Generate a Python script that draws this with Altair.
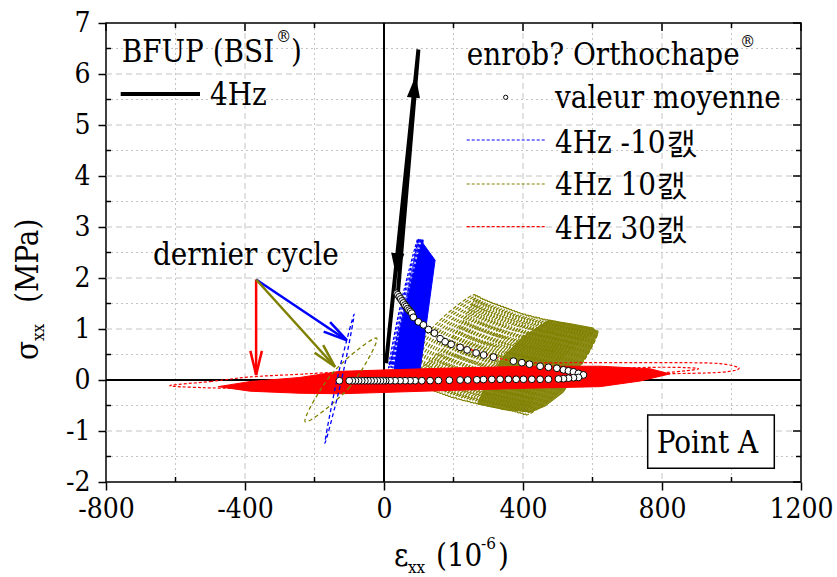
import altair as alt
import pandas as pd

FONT = "DejaVu Serif Condensed, DejaVu Serif"
BLUE, OLIVE, RED = "#0000ff", "#808000", "#ff0000"
W, H = 695, 459
FS = 31      # main text size
FSS = 17     # sub / superscript size
FST = 28     # tick label size

# ---------------- axis values ----------------
x_major = [-800, -400, 0, 400, 800, 1200]
x_minor = [-600, -200, 200, 600, 1000]
y_major = [-2, -1, 0, 1, 2, 3, 4, 5, 6, 7]
y_minor = [-1.5, -0.5, 0.5, 1.5, 2.5, 3.5, 4.5, 5.5, 6.5]
x_grid_major = [-400, 400, 800]
y_grid_major = [-1, 1, 2, 3, 4, 5, 6]

# ---------------- BFUP (BSI) 4Hz path ----------------
bfup_x = [6, 99, 40]
bfup_y = [0.33, 6.48, 1.70]
bfup_up_arrow = (88, 5.75)
bfup_down_arrow = (37, 2.27)

# ---------------- valeur moyenne ----------------
mean_up_x = [36.8, 40, 44, 48, 52, 56, 60, 64, 68, 72, 76, 80.0, 84.6, 99.0, 113.4, 127.8, 145.1,
             161.5, 175.9, 193.2, 219.1, 239.2, 265.1, 286.7, 314.9, 372.5, 396.7, 418.5, 449.3,
             473.2, 497.4, 516.4, 530.8, 545.2, 559.6, 574.0]
mean_up_y = [1.70, 1.67, 1.63, 1.59, 1.55, 1.51, 1.47, 1.44, 1.40, 1.37, 1.34, 1.31, 1.23, 1.14,
             1.08, 0.99, 0.92, 0.81, 0.75, 0.70, 0.64, 0.59, 0.53, 0.49, 0.45, 0.37, 0.34, 0.31,
             0.27, 0.25, 0.23, 0.20, 0.18, 0.16, 0.13, 0.10]
mean_lo_x = [559.6, 545.2, 530.8, 516.4, 502.0, 473.2, 449.3, 425.4, 401.3, 380.3, 358.1, 334.2,
             310.3, 286.1, 267.1, 241.0, 219.0, 188.0, 156.6, 132.7, 108.8, 89.5, 75.1, 60.7, 46.3,
             32.0, 17.6, 5, -1.7, -10, -19, -28, -37, -46, -55, -64, -73, -82, -91, -100, -128.4]
mean_lo_y = [0.05, 0.045, 0.035, 0.025, 0.02, 0.015, 0.014, 0.014, 0.014, 0.014, 0.014, 0.014,
             0.012, 0.01, 0.005, 0.0, 0.0, -0.005, -0.01, -0.012] + [-0.014] * 21

# ---------------- 4Hz -10°C (blue) ----------------
blue_band_x = [23, 46, 81, 108.8, 147, 104, 95]
blue_band_y = [-0.1, 0.98, 1.96, 2.71, 2.35, 0.2, -0.1]
blue_loop_rx = [42, 6.2, -42, -6.2]
blue_loop_ry = [1.265, -0.01, -1.265, 0.01]
blue_comb_cx = [55, 59, 63, 67, 71]
blue_comb_cy = [1.50, 1.51, 1.51, 1.50, 1.50]
blue_last_c = ([-128], [0.025])

# ---------------- 4Hz 10°C (olive) ----------------
olive_loop_rx = [103, 24.7, -103, -23.7]
olive_loop_ry = [0.82, -0.14, -0.82, 0.14]
olive_cx = [159, 166, 173, 180, 187, 194, 201, 208, 216, 224, 232, 240, 248, 256, 264, 272, 280,
            288, 296, 304, 312, 320, 328, 336, 344, 352, 360, 368, 376, 384, 392, 400, 408, 416,
            424, 432, 440, 448, 456, 464, 472, 480, 488, 496, 504, 512]
olive_cy = [0.85, 0.83, 0.81, 0.78, 0.76, 0.74, 0.72, 0.70, 0.68, 0.66, 0.64, 0.62, 0.60, 0.58,
            0.56, 0.54, 0.52, 0.50, 0.48, 0.47, 0.45, 0.44, 0.42, 0.41, 0.40, 0.38, 0.37, 0.36,
            0.35, 0.34, 0.33, 0.31, 0.30, 0.29, 0.28, 0.27, 0.25, 0.24, 0.23, 0.22, 0.21, 0.20,
            0.18, 0.17, 0.15, 0.14]
olive_dense_x = [475, 540, 602, 616, 593, 516, 464, 421, 340, 269, 300, 348, 400]
olive_dense_y = [1.17, 1.10, 1.02, 0.93, 0.59, -0.24, -0.51, -0.63, -0.57, -0.47, 0.0, 0.49, 0.85]
olive_last_c = ([-124], [0.0])

# ---------------- 4Hz 30°C (red) ----------------
red_band_x = [-477, -385, -242, -126, 161, 421, 622, 766, 823, 737, 622, 421, 161, -126, -242, -385]
red_band_y = [-0.13, -0.03, 0.05, 0.17, 0.23, 0.27, 0.27, 0.22, 0.12, -0.02, -0.13, -0.16, -0.21,
              -0.27, -0.26, -0.22]
red_outer_x = [-616, -500, -385, -250, -136, 100, 400, 650, 400, 100, -184, -385, -520]
red_outer_y = [-0.11, -0.03, 0.06, 0.11, 0.15, 0.20, 0.18, 0.12, -0.04, -0.12, -0.20, -0.17, -0.15]
red_first_x = [209.6, 334, 420.6, 560, 708, 860, 967, 1022, 967, 795, 622]
red_first_y = [0.69, 0.42, 0.34, 0.34, 0.34, 0.34, 0.32, 0.23, 0.15, 0.12, 0.10]
red_mid_x = [600, 800, 905, 800, 600]
red_mid_y = [0.22, 0.25, 0.22, 0.14, 0.06]

# ---------------- dernier cycle arrows ----------------
arrow_start = (-368, 1.97)
arrow_red_tip = (-368, 0.10)
arrow_blue_tip = (-107, 0.78)
arrow_olive_tip = (-141, 0.26)

# ======================================================================
xsc = alt.Scale(domain=[-800, 1200], nice=False, zero=False)
ysc = alt.Scale(domain=[-2, 7], nice=False, zero=False)

xaxis = alt.Axis(values=x_major, title=None, grid=False, domain=False, tickSize=8, tickWidth=1.5,
                 tickColor="black", labelFont=FONT, labelFontSize=FST, labelColor="black",
                 labelPadding=5, labelFlush=False, labelOverlap=False, labelExpr="'' + datum.value")
yaxis = alt.Axis(values=y_major, title=None, grid=False, domain=False, tickSize=8, tickWidth=1.5,
                 tickColor="black", labelFont=FONT, labelFontSize=FST, labelColor="black",
                 labelPadding=8, labelFlush=False, labelOverlap=False, labelExpr="'' + datum.value")


def ex(f="x"):
    return alt.X(f"{f}:Q", scale=xsc, axis=xaxis)


def ey(f="y"):
    return alt.Y(f"{f}:Q", scale=ysc, axis=yaxis)


def path(xs, ys):
    return pd.DataFrame({"x": xs, "y": ys, "o": list(range(len(xs)))})


def loops(cx, cy, rx, ry):
    rows = []
    for i, (a, b) in enumerate(zip(cx, cy)):
        for j, (u, v) in enumerate(zip(rx, ry)):
            rows.append({"x": a + u, "y": b + v, "g": i, "o": j})
    return pd.DataFrame(rows)


dummy = pd.DataFrame({"a": [0]})
layers = []

layers.append(alt.Chart(pd.DataFrame({"x": [0], "y": [0]})).mark_point(opacity=0).encode(x=ex(), y=ey()))


def vgrid(vals, dash):
    return alt.Chart(pd.DataFrame({"v": vals})).mark_rule(color="#c4c4c4", strokeWidth=1, strokeDash=dash).encode(
        x=ex("v"), y=alt.value(0), y2=alt.value(H))


def hgrid(vals, dash):
    return alt.Chart(pd.DataFrame({"v": vals})).mark_rule(color="#c4c4c4", strokeWidth=1, strokeDash=dash).encode(
        y=ey("v"), x=alt.value(0), x2=alt.value(W))


layers += [vgrid(x_minor, [2, 3]), vgrid(x_grid_major, [6, 4]), hgrid(y_minor, [2, 3]), hgrid(y_grid_major, [6, 4])]


def xticks(vals, y0, y1):
    return alt.Chart(pd.DataFrame({"v": vals})).mark_rule(color="black", strokeWidth=1.5).encode(
        x=ex("v"), y=alt.value(y0), y2=alt.value(y1))


def yticks(vals, x0, x1):
    return alt.Chart(pd.DataFrame({"v": vals})).mark_rule(color="black", strokeWidth=1.5).encode(
        y=ey("v"), x=alt.value(x0), x2=alt.value(x1))


layers += [xticks(x_major, 0, 8), xticks(x_minor, 0, 5), xticks(x_minor, H, H - 5),
           yticks(y_major, W, W - 8), yticks(y_minor, W, W - 5), yticks(y_minor, 0, 5)]

layers.append(alt.Chart(pd.DataFrame({"v": [0]})).mark_rule(color="black", strokeWidth=2).encode(
    x=ex("v"), y=alt.value(0), y2=alt.value(H)))
layers.append(alt.Chart(pd.DataFrame({"v": [0]})).mark_rule(color="black", strokeWidth=2).encode(
    y=ey("v"), x=alt.value(0), x2=alt.value(W)))

layers.append(alt.Chart(loops(olive_cx, olive_cy, olive_loop_rx, olive_loop_ry)).mark_line(
    interpolate="cardinal-closed", color=OLIVE, strokeWidth=1.2, strokeDash=[4, 2]).encode(
    x=ex(), y=ey(), detail="g:N", order="o:Q"))
layers.append(alt.Chart(path(olive_dense_x, olive_dense_y)).mark_line(
    interpolate="linear-closed", color=OLIVE, fill=OLIVE, strokeWidth=1, fillOpacity=0.9).encode(
    x=ex(), y=ey(), order="o:Q"))

layers.append(alt.Chart(path(blue_band_x, blue_band_y)).mark_line(
    interpolate="linear-closed", color=BLUE, fill=BLUE, strokeWidth=1).encode(x=ex(), y=ey(), order="o:Q"))
layers.append(alt.Chart(loops(blue_comb_cx, blue_comb_cy, blue_loop_rx, blue_loop_ry)).mark_line(
    interpolate="cardinal-closed", color=BLUE, strokeWidth=1.2, strokeDash=[3, 2]).encode(
    x=ex(), y=ey(), detail="g:N", order="o:Q"))

layers.append(alt.Chart(path(red_band_x, red_band_y)).mark_line(
    interpolate="linear-closed", color=RED, fill=RED, strokeWidth=1).encode(x=ex(), y=ey(), order="o:Q"))
layers.append(alt.Chart(path(red_outer_x, red_outer_y)).mark_line(
    interpolate="cardinal-closed", color=RED, strokeWidth=1.2, strokeDash=[3, 2]).encode(x=ex(), y=ey(), order="o:Q"))
layers.append(alt.Chart(path(red_first_x, red_first_y)).mark_line(
    interpolate="cardinal", color=RED, strokeWidth=1.2, strokeDash=[3, 2]).encode(x=ex(), y=ey(), order="o:Q"))
layers.append(alt.Chart(path(red_mid_x, red_mid_y)).mark_line(
    interpolate="cardinal", color=RED, strokeWidth=1.2, strokeDash=[3, 2]).encode(x=ex(), y=ey(), order="o:Q"))

layers.append(alt.Chart(loops(*olive_last_c, olive_loop_rx, olive_loop_ry)).mark_line(
    interpolate="cardinal-closed", color=OLIVE, strokeWidth=1.3, strokeDash=[4, 3]).encode(
    x=ex(), y=ey(), detail="g:N", order="o:Q"))
layers.append(alt.Chart(loops(*blue_last_c, blue_loop_rx, blue_loop_ry)).mark_line(
    interpolate="cardinal-closed", color=BLUE, strokeWidth=1.3, strokeDash=[4, 3]).encode(
    x=ex(), y=ey(), detail="g:N", order="o:Q"))

TRI = "M0,-1L0.6,1L-0.6,1Z"
layers.append(alt.Chart(path(bfup_x, bfup_y)).mark_line(color="black", strokeWidth=4).encode(
    x=ex(), y=ey(), order="o:Q"))
layers.append(alt.Chart(path([bfup_up_arrow[0]], [bfup_up_arrow[1]])).mark_point(
    shape=TRI, size=484, angle=5.9, filled=True, color="black", opacity=1).encode(x=ex(), y=ey()))
layers.append(alt.Chart(path([bfup_down_arrow[0]], [bfup_down_arrow[1]])).mark_point(
    shape=TRI, size=484, angle=184.8, filled=True, color="black", opacity=1).encode(x=ex(), y=ey()))

layers.append(alt.Chart(path(mean_up_x + mean_lo_x, mean_up_y + mean_lo_y)).mark_point(
    shape="circle", size=46, filled=True, fill="white", stroke="black", strokeWidth=1, opacity=1).encode(
    x=ex(), y=ey()))

VHEAD = "M-0.24,1L0,0L0.24,1"
for tip, col, ang in [(arrow_red_tip, RED, 180), (arrow_blue_tip, BLUE, 123.8), (arrow_olive_tip, OLIVE, 137.9)]:
    layers.append(alt.Chart(path([arrow_start[0], tip[0]], [arrow_start[1], tip[1]])).mark_line(
        color=col, strokeWidth=2.5).encode(x=ex(), y=ey(), order="o:Q"))
    layers.append(alt.Chart(path([tip[0]], [tip[1]])).mark_point(
        shape=VHEAD, size=2304, angle=ang, filled=False, color=col, strokeWidth=2.5, opacity=1).encode(
        x=ex(), y=ey()))

layers.append(alt.Chart(dummy).mark_rect(fill="white", stroke="black", strokeWidth=1.5).encode(
    x=alt.value(541.7), x2=alt.value(668.3), y=alt.value(392), y2=alt.value(445.3)))


def hline(x0, x1, y, col, width, dash=None):
    kw = dict(color=col, strokeWidth=width)
    if dash:
        kw["strokeDash"] = dash
    return alt.Chart(dummy).mark_rule(**kw).encode(x=alt.value(x0), x2=alt.value(x1), y=alt.value(y))


layers += [hline(14.7, 94, 71, "black", 4),
           hline(360.7, 439, 117, BLUE, 1.2, [3, 2]),
           hline(360.7, 439, 161, OLIVE, 1.2, [3, 2]),
           hline(360.7, 439, 203.7, RED, 1.2, [3, 2])]
layers.append(alt.Chart(dummy).mark_point(shape="circle", size=18, filled=True, fill="white",
                                          stroke="black", strokeWidth=1, opacity=1).encode(
    x=alt.value(399.7), y=alt.value(74.3)))


def txt(s, x, y, size=FS, angle=None):
    kw = dict(align="left", baseline="alphabetic", font=FONT, fontSize=size, color="black")
    if angle is not None:
        kw["angle"] = angle
    return alt.Chart(pd.DataFrame({"t": [s]})).mark_text(**kw).encode(
        x=alt.value(x), y=alt.value(y), text="t:N")


layers += [
    txt("BFUP (BSI", 15.7, 38.7), txt("®", 170, 19, FSS), txt(")", 185, 38.7),
    txt("4Hz", 104, 82),
    txt("enrob? Orthochape", 360.7, 42), txt("®", 634, 24, FSS),
    txt("valeur moyenne", 449, 85),
    txt("4Hz -10캜", 449, 130.3), txt("4Hz 10캜", 449, 172), txt("4Hz 30캜", 449, 216),
    txt("dernier cycle", 47, 242),
    txt("Point A", 550.7, 429.7),
    txt("ε", 288, 543), txt("xx", 302, 550, FSS), txt("(10", 330, 543), txt("-6", 375, 526, FSS),
    txt(")", 392, 543),
    txt("σ", -68, 337, FS, 270), txt("xx", -62, 318, FSS, 270), txt("(MPa)", -68, 280, FS, 270),
]

chart = alt.layer(*layers).properties(
    width=W, height=H,
    padding={"left": 106, "top": 23, "right": 36, "bottom": 95},
    autosize=alt.AutoSizeParams(type="none"),
    background="white",
).configure_view(stroke="black", strokeWidth=1.5)

chart.save("out.html", embed_options={"renderer": "svg", "actions": False})
